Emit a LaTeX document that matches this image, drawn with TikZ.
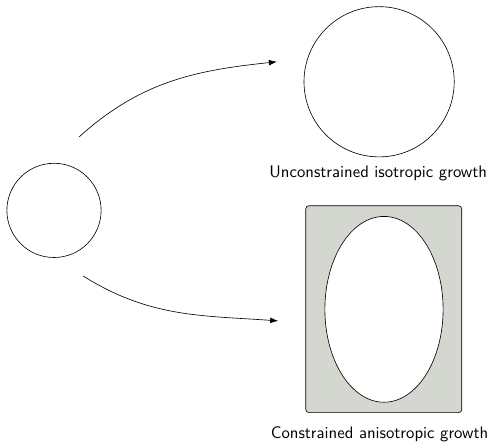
\documentclass[tikz,border=0pt]{standalone}
\usepackage{amsmath}
\usetikzlibrary{shapes.geometric,arrows.meta}

\definecolor{alu}{HTML}{D3D7CF}

\begin{document}
\begin{tikzpicture}[font=\sffamily\fontsize{10.7}{13}\selectfont, >={Latex[length=1.8mm,width=1.3mm]}]

	\useasboundingbox (0,0) rectangle (11.07,10.01);

	% seed and the two growth results
	\node[draw, circle, minimum size=2.12cm, inner sep=0pt] (seed) at (1.215,5.276) {};
	\node[draw, circle, minimum size=3.38cm, inner sep=0pt] (free) at (8.53,8.17) {};
	\node[anchor=base] at (8.51,6.01) (freelabel) {Unconstrained isotropic growth};

	\draw[fill=alu, rounded corners=2pt] (6.88,0.727) rectangle (10.39,5.38);
	\node[draw, ellipse, fill=white, minimum width=2.66cm, minimum height=4.18cm, inner sep=0pt] (bound) at (8.64,3.05) {};
	\node[anchor=base] at (8.54,0.14) (boundlabel) {Constrained anisotropic growth};

	% arrows
	\coordinate (upstart) at (1.78,6.93);
	\coordinate (upend) at (6.23,8.62);
	\coordinate (downstart) at (1.87,3.80);
	\coordinate (downend) at (6.26,2.79);
	\draw[->] (upstart) to[out=42, in=186] (upend);
	\draw[->] (downstart) to[out=-32, in=176] (downend);

\end{tikzpicture}
\end{document}
